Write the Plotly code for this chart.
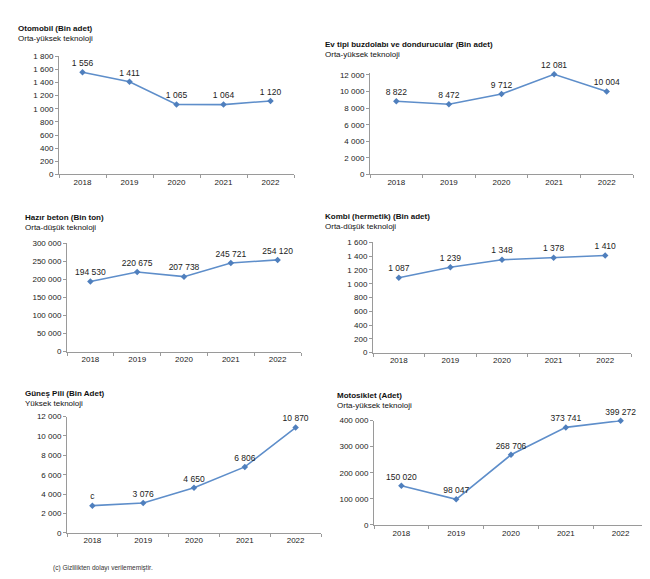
import plotly.graph_objects as go

years = ["2018", "2019", "2020", "2021", "2022"]

otomobil = [1556, 1411, 1065, 1064, 1120]
buzdolabi = [8822, 8472, 9712, 12081, 10004]
hazir_beton = [194530, 220675, 207738, 245721, 254120]
kombi = [1087, 1239, 1348, 1378, 1410]
gunes_pili = [2800, 3076, 4650, 6806, 10870]  # 2018 value confidential ("c"), position estimated
gunes_labels = ["c", "3 076", "4 650", "6 806", "10 870"]
motosiklet = [150020, 98047, 268706, 373741, 399272]

titles = ["Otomobil (Bin adet)", "Ev tipi buzdolabı ve dondurucular (Bin adet)",
          "Hazır beton (Bin ton)", "Kombi (hermetik) (Bin adet)",
          "Güneş Pili (Bin Adet)", "Motosiklet (Adet)"]
subtitles = ["Orta-yüksek teknoloji", "Orta-yüksek teknoloji",
             "Orta-düşük teknoloji", "Orta-düşük teknoloji",
             "Yüksek teknoloji", "Orta-yüksek teknoloji"]

W, H = 650, 579
LINE = "#5E8ECA"
AXC = "#9a9a9a"
FONT = "Liberation Sans, Arial, sans-serif"

def fmt(v):
    return f"{v:,}".replace(",", " ")

# panel geometry in pixels: (x0, x1, y_bottom, y_top, range max, dtick)
panels = [
    (51, 286, 165, 45, 1800, 200),
    (362, 625, 165, 62.3, 12200, 2000),
    (59, 293, 345, 235, 300000, 50000),
    (365, 623, 346, 234, 1600, 200),
    (59, 313, 529, 411, 12000, 2000),
    (366, 640, 521, 415, 400000, 100000),
]
title_pos = [(8, 17), (315, 33), (15, 209), (315, 208), (15, 388), (327, 390)]

series = [otomobil, buzdolabi, hazir_beton, kombi, gunes_pili, motosiklet]
labels = [[fmt(v) for v in otomobil], [fmt(v) for v in buzdolabi],
          [fmt(v) for v in hazir_beton], [fmt(v) for v in kombi],
          gunes_labels, [fmt(v) for v in motosiklet]]

fig = go.Figure()
layout = dict(width=W, height=H, margin=dict(l=0, r=0, t=0, b=0),
              paper_bgcolor="white", plot_bgcolor="white", showlegend=False,
              separators=". ", font=dict(family=FONT, size=8, color="#222"))
annotations = []
for i, (vals, txt, (x0, x1, yb, yt, ymax, dt)) in enumerate(zip(series, labels, panels)):
    n = i + 1
    xa = "x" if n == 1 else f"x{n}"
    ya = "y" if n == 1 else f"y{n}"
    fig.add_trace(go.Scatter(
        x=years, y=vals, mode="lines+markers+text", text=txt,
        textposition="top center", textfont=dict(size=8.5, color="#222", family=FONT),
        line=dict(color=LINE, width=1.6),
        marker=dict(symbol="diamond", size=5, color="#4F7FBD"),
        cliponaxis=False, xaxis=xa, yaxis=ya, hoverinfo="skip"))
    layout["xaxis" if n == 1 else f"xaxis{n}"] = dict(
        domain=[x0 / W, x1 / W], anchor=ya, type="category",
        range=[-0.5, 4.5], showline=True, linecolor=AXC, linewidth=1,
        ticks="outside", tickson="boundaries", ticklen=3, tickcolor=AXC,
        showgrid=False, zeroline=False, tickfont=dict(size=8, color="#222"))
    layout["yaxis" if n == 1 else f"yaxis{n}"] = dict(
        domain=[1 - yb / H, 1 - yt / H], anchor=xa, range=[0, ymax],
        dtick=dt, tick0=0, tickformat=",d", showline=True, linecolor=AXC,
        linewidth=1, ticks="outside", ticklen=3, tickcolor=AXC,
        showgrid=False, zeroline=False, tickfont=dict(size=8, color="#222"))
    tx, ty = title_pos[i]
    annotations.append(dict(text=f"<b>{titles[i]}</b>", x=tx / W, y=1 - ty / H,
                            xref="paper", yref="paper", xanchor="left", yanchor="middle",
                            showarrow=False, font=dict(size=8, color="#111")))
    annotations.append(dict(text=subtitles[i], x=tx / W, y=1 - (ty + 10) / H,
                            xref="paper", yref="paper", xanchor="left", yanchor="middle",
                            showarrow=False, font=dict(size=8, color="#111")))

annotations.append(dict(text="(c) Gizlilikten dolayı verilememiştir.", x=43 / W, y=1 - 565 / H,
                        xref="paper", yref="paper", xanchor="left", yanchor="middle",
                        showarrow=False, font=dict(size=6.5, color="#333")))
layout["annotations"] = annotations
fig.update_layout(**layout)
fig.write_html("out.html")
